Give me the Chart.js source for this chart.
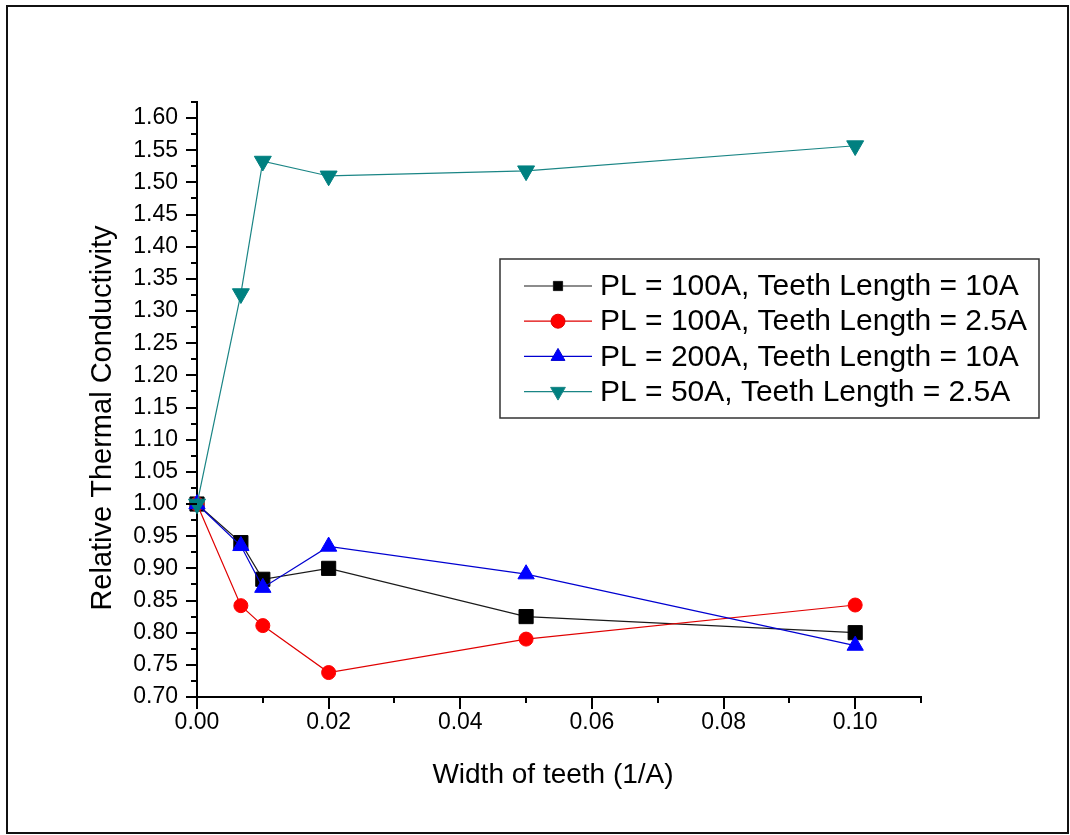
<!DOCTYPE html>
<html>
<head>
<meta charset="utf-8">
<title>Relative Thermal Conductivity</title>
<script src="https://cdn.jsdelivr.net/npm/chart.js@4.4.1/dist/chart.umd.min.js"></script>
<style>
    html, body { margin: 0; padding: 0; background: #fff; }
    #wrap { position: relative; width: 1070px; height: 835px; overflow: hidden; }
    #myChart { position: absolute; left: 0; top: 0; }
    #frame { position: absolute; left: 6px; top: 5px; width: 1063px; height: 829px; box-sizing: border-box; border: 2px solid #111; pointer-events: none; }
</style>
</head>
<body>
<div id="wrap">
    <canvas id="myChart" width="1070" height="835"></canvas>
    <div id="frame"></div>
</div>
<script>
// x: width of teeth (1/A)
const widthOfTeeth = [0, 1 / 150, 0.01, 0.02, 0.05, 0.1];

// relative thermal conductivity
const pl100Teeth10 = [1.0, 0.94, 0.883, 0.9, 0.825, 0.8];
const pl100Teeth25 = [1.0, 0.842, 0.811, 0.738, 0.79, 0.843];
const pl200Teeth10 = [1.0, 0.935, 0.87, 0.934, 0.891, 0.78];
const pl50Teeth25 = [1.0, 1.327, 1.533, 1.51, 1.518, 1.557];

const seriesLabels = [
    'PL = 100A, Teeth Length = 10A',
    'PL = 100A, Teeth Length = 2.5A',
    'PL = 200A, Teeth Length = 10A',
    'PL = 50A, Teeth Length = 2.5A',
];

const xTickLabels = ['0.00', '0.02', '0.04', '0.06', '0.08', '0.10'];
const yTickLabels = ['0.70', '0.75', '0.80', '0.85', '0.90', '0.95', '1.00', '1.05', '1.10', '1.15',
    '1.20', '1.25', '1.30', '1.35', '1.40', '1.45', '1.50', '1.55', '1.60'];

const xTitle = 'Width of teeth (1/A)';
const yTitle = 'Relative Thermal Conductivity';

const FONT = '"Liberation Sans", Arial, sans-serif';

const main = () => {
    createChart();
};

/**
 * Pairs the x values with one series.
 * @param {Array<number>} values
 */
const toPoints = (values) => {
    return widthOfTeeth.map((x, i) => ({ x: x, y: values[i] }));
};

/**
 * Outward tick marks, long for labelled ticks and short for the others.
 */
const tickMarks = {
    id: 'tickMarks',
    afterDraw: (chart) => {
        const ctx = chart.ctx;
        const xScale = chart.scales.x;
        const yScale = chart.scales.y;

        ctx.save();
        ctx.strokeStyle = '#000';
        ctx.lineWidth = 2;

        xScale.ticks.forEach((tick) => {
            const px = Math.round(xScale.getPixelForValue(tick.value));
            const len = tick.label ? 12 : 6;
            ctx.beginPath();
            ctx.moveTo(px, yScale.bottom);
            ctx.lineTo(px, yScale.bottom + len);
            ctx.stroke();
        });

        yScale.ticks.forEach((tick) => {
            const py = Math.round(yScale.getPixelForValue(tick.value));
            const len = tick.label ? 11 : 6;
            ctx.beginPath();
            ctx.moveTo(xScale.left, py);
            ctx.lineTo(xScale.left - len, py);
            ctx.stroke();
        });

        ctx.restore();
    },
};

/**
 * Axis titles.
 */
const axisTitles = {
    id: 'axisTitles',
    afterDraw: (chart) => {
        const ctx = chart.ctx;
        ctx.save();
        ctx.fillStyle = '#000';
        ctx.textAlign = 'center';
        ctx.textBaseline = 'alphabetic';

        ctx.font = '28px ' + FONT;
        ctx.fillText(xTitle, 553, 783);

        ctx.translate(110.5, 418);
        ctx.rotate(-Math.PI / 2);
        ctx.font = '29px ' + FONT;
        ctx.fillText(yTitle, 0, 0);
        ctx.restore();
    },
};

/**
 * Boxed legend with line - marker - line samples.
 */
const boxLegend = {
    id: 'boxLegend',
    afterDraw: (chart) => {
        const ctx = chart.ctx;
        const box = { left: 500, top: 259, width: 539, height: 159 };
        const rowTop = 286;
        const rowStep = 35.2;

        ctx.save();
        ctx.strokeStyle = '#333';
        ctx.lineWidth = 1.5;
        ctx.strokeRect(box.left, box.top, box.width, box.height);

        ctx.font = '30px ' + FONT;
        ctx.textAlign = 'left';
        ctx.textBaseline = 'middle';

        chart.data.datasets.forEach((ds, i) => {
            const y = rowTop + i * rowStep;

            ctx.strokeStyle = ds.borderColor;
            ctx.lineWidth = 1.2;
            ctx.beginPath();
            ctx.moveTo(524, y);
            ctx.lineTo(592, y);
            ctx.stroke();

            ctx.fillStyle = ds.backgroundColor;
            ctx.strokeStyle = ds.borderColor;
            ctx.lineWidth = 1;
            Chart.helpers.drawPoint(ctx, {
                pointStyle: ds.pointStyle,
                radius: ds.legendRadius,
                rotation: ds.pointRotation || 0,
                borderWidth: 1,
            }, 558, y);

            ctx.fillStyle = '#000';
            ctx.fillText(ds.label, 600, y + 1);
        });

        ctx.restore();
    },
};

/**
 * Builds the chart.
 */
const createChart = () => {
    const chartData = {
        datasets: [
            {
                label: seriesLabels[0],
                data: toPoints(pl100Teeth10),
                borderColor: '#1a1a1a',
                backgroundColor: '#000000',
                pointStyle: 'rect',
                pointRadius: 10,
                legendRadius: 6.5,
                order: 4,
            },
            {
                label: seriesLabels[1],
                data: toPoints(pl100Teeth25),
                borderColor: '#e00000',
                backgroundColor: '#ff0000',
                pointStyle: 'circle',
                pointRadius: 7,
                legendRadius: 7,
                order: 3,
            },
            {
                label: seriesLabels[2],
                data: toPoints(pl200Teeth10),
                borderColor: '#0000d0',
                backgroundColor: '#0000ff',
                pointStyle: 'triangle',
                pointRadius: 9.4,
                legendRadius: 8,
                order: 2,
            },
            {
                label: seriesLabels[3],
                data: toPoints(pl50Teeth25),
                borderColor: '#1a8585',
                backgroundColor: '#008080',
                pointStyle: 'triangle',
                pointRotation: 180,
                pointRadius: 9.8,
                legendRadius: 8.5,
                order: 1,
            },
        ],
    };

    chartData.datasets.forEach((ds) => {
        ds.borderWidth = 1.2;
        ds.pointBorderWidth = 1;
        ds.pointBorderColor = ds.backgroundColor;
        ds.pointBackgroundColor = ds.backgroundColor;
        ds.pointHoverRadius = ds.pointRadius;
        ds.tension = 0;
        ds.clip = false;
    });

    const config = {
        type: 'line',
        data: chartData,
        options: {
            responsive: false,
            animation: false,
            devicePixelRatio: 1,
            layout: {
                padding: { left: 0, top: 102, right: 149, bottom: 0 },
            },
            plugins: {
                legend: { display: false },
                tooltip: { enabled: false },
            },
            scales: {
                x: {
                    type: 'linear',
                    min: 0,
                    max: 0.11,
                    border: { display: true, color: '#000', width: 2 },
                    grid: {
                        display: true,
                        drawOnChartArea: false,
                        drawTicks: true,
                        tickLength: 12,
                        tickColor: 'rgba(0,0,0,0)',
                    },
                    ticks: {
                        stepSize: 0.01,
                        autoSkip: false,
                        maxRotation: 0,
                        padding: 0,
                        color: '#000',
                        font: { family: FONT, size: 23 },
                        callback: (value) => {
                            const s = Number(value).toFixed(2);
                            return xTickLabels.includes(s) ? s : '';
                        },
                    },
                    afterFit: (scale) => {
                        scale.height = 138;
                    },
                },
                y: {
                    type: 'linear',
                    min: 0.7,
                    max: 1.625,
                    border: { display: true, color: '#000', width: 2 },
                    grid: {
                        display: true,
                        drawOnChartArea: false,
                        drawTicks: true,
                        tickLength: 11,
                        tickColor: 'rgba(0,0,0,0)',
                    },
                    ticks: {
                        stepSize: 0.025,
                        autoSkip: false,
                        padding: 8,
                        color: '#000',
                        font: { family: FONT, size: 23 },
                        callback: (value) => {
                            const s = Number(value).toFixed(2);
                            return yTickLabels.includes(s) && Math.abs(Number(s) - value) < 0.001 ? s : '';
                        },
                    },
                    afterFit: (scale) => {
                        scale.width = 197;
                    },
                },
            },
        },
        plugins: [tickMarks, axisTitles, boxLegend],
    };

    return new Chart(document.getElementById('myChart'), config);
};

main();
</script>
</body>
</html>
